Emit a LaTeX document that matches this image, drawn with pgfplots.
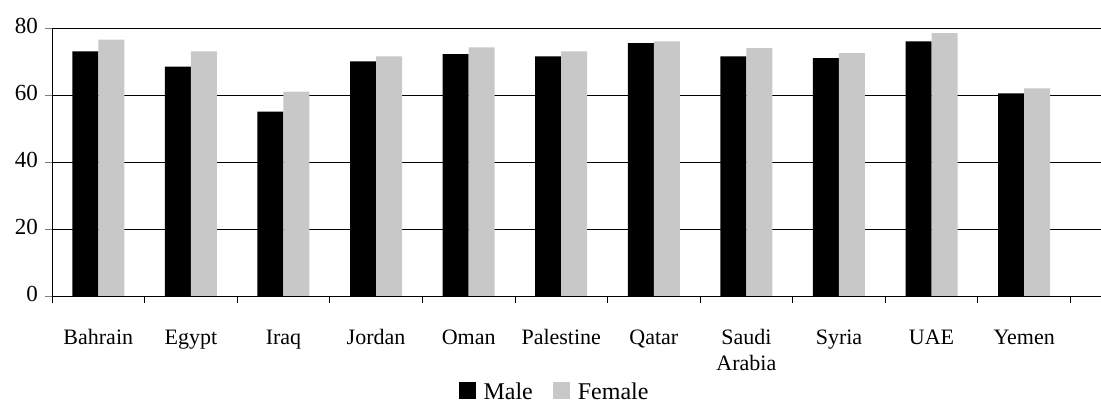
\documentclass[border=0pt]{standalone}
\usepackage{fontspec}
\setmainfont{Liberation Serif}
\usepackage{pgfplots}
\pgfplotsset{compat=1.18}

\definecolor{femgray}{RGB}{200,200,200}

\begin{document}
\begin{tikzpicture}
\begin{axis}[
  scale only axis,
  width=524.5pt, height=134pt,
  ymin=0, ymax=80,
  ytick={0,20,40,60,80},
  xmin=-0.5, xmax=10.83,
  xtick={0,...,10},
  xticklabels={Bahrain,Egypt,Iraq,Jordan,Oman,Palestine,Qatar,{Saudi\\Arabia},Syria,UAE,Yemen},
  typeset ticklabels with strut,
  xticklabel style={align=center, yshift=-8pt},
  minor xtick={-0.5,0.5,...,10.5},
  xtick style={draw=none},
  minor x tick style={draw=black, thin},
  tick align=outside,
  major tick length=3.5pt, minor tick length=3.5pt,
  axis x line*=bottom, axis y line*=left,
  axis line style={-, black, thin},
  ymajorgrids, grid style={black, thin},
  ybar=0pt, bar width=13pt,
  font=\fontsize{11}{13}\selectfont,
  yticklabel style={font=\fontsize{11.5}{13}\selectfont},
  /pgf/number format/assume math mode=true,
  legend style={at={(0.48,-0.36)}, anchor=center, draw=none,
    legend columns=2, font=\fontsize{12}{14}\selectfont,
    /tikz/every even column/.append style={column sep=8pt}},
  legend image code/.code={\fill[#1] (0pt,-3.5pt) rectangle (8.5pt,5pt);},
]
\addplot[fill=black, draw=none] coordinates {
  (0,73) (1,68.5) (2,55) (3,70) (4,72.2) (5,71.5) (6,75.5) (7,71.5) (8,71) (9,76) (10,60.5)};
\addplot[fill=femgray, draw=none] coordinates {
  (0,76.5) (1,73) (2,61) (3,71.5) (4,74.2) (5,73) (6,76) (7,74) (8,72.5) (9,78.5) (10,62)};
\legend{\,Male,\,Female}
\end{axis}
\pgfresetboundingbox
\path ([xshift=-26pt,yshift=-57pt]current axis.south west) rectangle ([yshift=14pt]current axis.north east);
\end{tikzpicture}
\end{document}
